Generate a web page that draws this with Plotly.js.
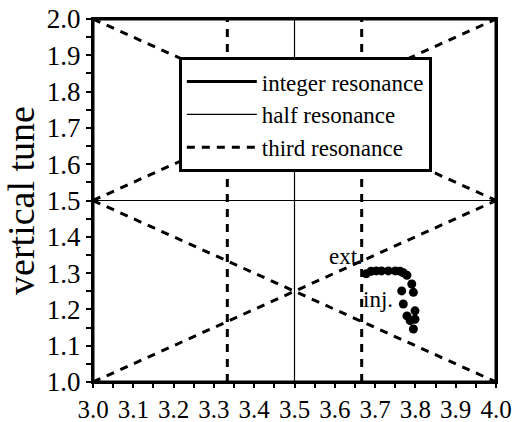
<!DOCTYPE html>
<html>
<head>
<meta charset="utf-8">
<script src="https://cdn.plot.ly/plotly-3.0.1.min.js"></script>
<style>
  html, body { margin: 0; padding: 0; background: #fff; }
  #tune { width: 518px; height: 422px; }
</style>
</head>
<body>
<div id="tune"></div>
<script>
// tune diagram: resonance lines and measured working points

// integer resonance lines (frame)
var intX = [3, 4, 4, 3, 3];
var intY = [1, 1, 2, 2, 1];

// half resonance lines
var halfX = [3.5, 3.5, null, 3, 4];
var halfY = [1, 2, null, 1.5, 1.5];

// third resonance lines
var thirdX = [3, 4, null, 3, 4, null, 3, 4, null, 3, 4, null, 3.3333, 3.3333, null, 3.6667, 3.6667];
var thirdY = [2, 1.5, null, 1.5, 2, null, 1.5, 1, null, 1, 1.5, null, 1, 2, null, 1, 2];

// measured tunes, injection -> extraction
var tuneX = [3.678, 3.690, 3.703, 3.716, 3.733, 3.750, 3.762, 3.770, 3.779, 3.791, 3.795, 3.766, 3.770, 3.799, 3.799, 3.779, 3.787, 3.795];
var tuneY = [1.298, 1.305, 1.306, 1.306, 1.306, 1.306, 1.305, 1.301, 1.294, 1.270, 1.247, 1.251, 1.215, 1.196, 1.173, 1.182, 1.169, 1.146];

var serif = 'Liberation Serif';

var integer = {
  x: intX, y: intY,
  name: 'integer resonance',
  mode: 'lines',
  type: 'scatter',
  line: { color: 'black', width: 3 }
};

var half = {
  x: halfX, y: halfY,
  name: 'half resonance',
  mode: 'lines',
  type: 'scatter',
  line: { color: 'black', width: 1.2 }
};

var third = {
  x: thirdX, y: thirdY,
  name: 'third resonance',
  mode: 'lines',
  type: 'scatter',
  line: { color: 'black', width: 3, dash: '8px,7px' }
};

var points = {
  x: tuneX, y: tuneY,
  mode: 'markers',
  type: 'scatter',
  showlegend: false,
  marker: { color: 'black', size: 9 }
};

var layout = {
  width: 518,
  height: 422,
  margin: { l: 93, r: 22, t: 19, b: 40 },
  paper_bgcolor: 'white',
  plot_bgcolor: 'white',
  font: { family: serif, color: 'black', size: 25 },
  showlegend: true,
  legend: {
    x: 0.213, y: 0.895,
    xanchor: 'left', yanchor: 'top',
    bgcolor: 'white',
    bordercolor: 'black',
    borderwidth: 3,
    itemwidth: 70,
    font: { family: serif, size: 23, color: 'black' },
    tracegroupgap: 0
  },
  xaxis: {
    range: [3, 4],
    dtick: 0.1,
    tickformat: '.1f',
    showgrid: false,
    zeroline: false,
    showline: true,
    linecolor: 'black',
    linewidth: 2,
    mirror: true,
    ticks: 'outside',
    ticklen: 4,
    tickwidth: 2,
    tickcolor: 'black',
    minor: { dtick: 0.05, ticks: 'outside', ticklen: 4, tickwidth: 2, tickcolor: 'black', showgrid: false },
    tickfont: { family: serif, size: 25, color: 'black' }
  },
  yaxis: {
    range: [1, 2],
    dtick: 0.1,
    tickformat: '.1f',
    showgrid: false,
    zeroline: false,
    showline: true,
    linecolor: 'black',
    linewidth: 2,
    mirror: true,
    ticks: 'outside',
    ticklen: 5,
    tickwidth: 2,
    tickcolor: 'black',
    minor: { dtick: 0.05, ticks: 'outside', ticklen: 5, tickwidth: 2, tickcolor: 'black', showgrid: false },
    tickfont: { family: serif, size: 27, color: 'black' },
    title: { text: 'vertical tune', font: { family: serif, size: 38, color: 'black' }, standoff: 1 }
  },
  annotations: [
    { x: 3.627, y: 1.345, text: 'ext.', showarrow: false, font: { family: serif, size: 23, color: 'black' } },
    { x: 3.707, y: 1.228, text: 'inj.', showarrow: false, font: { family: serif, size: 23, color: 'black' } }
  ]
};

Plotly.newPlot('tune', [integer, half, third, points], layout, { displayModeBar: false, staticPlot: true });
</script>
</body>
</html>
